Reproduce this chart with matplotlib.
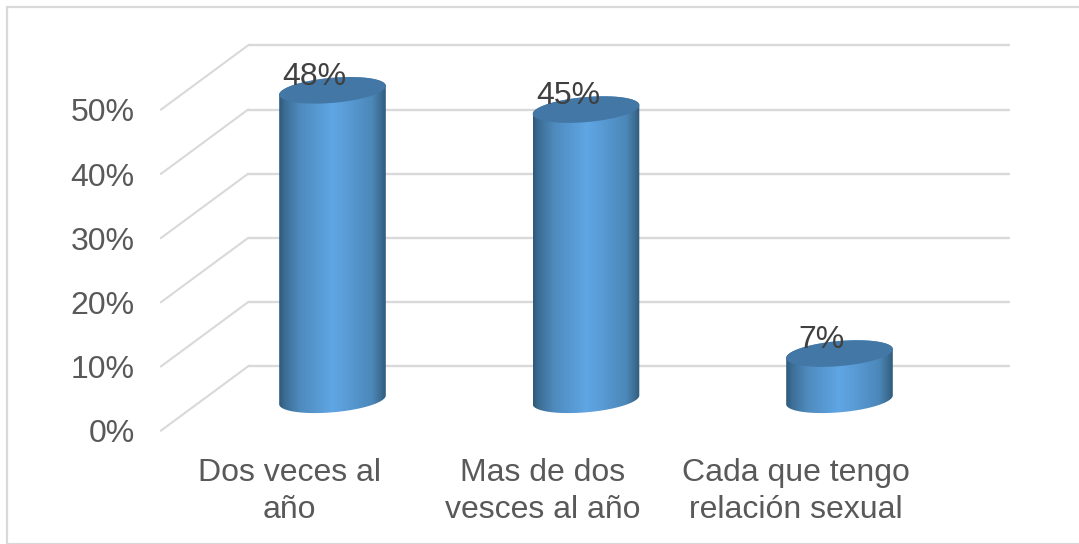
import numpy as np
from matplotlib import pyplot as plt
from matplotlib.colors import LinearSegmentedColormap
from matplotlib.patches import Polygon, Rectangle

# Data
categories = ["Dos veces al\naño", "Mas de dos\nvesces al año", "Cada que tengo\nrelación sexual"]
values = [48, 45, 7]
value_labels = ["48%", "45%", "7%"]
y_ticks = [0, 10, 20, 30, 40, 50]
y_tick_labels = ["0%", "10%", "20%", "30%", "40%", "50%"]

plt.rcParams['font.family'] = ['Liberation Sans', 'DejaVu Sans']

W, H = 1079, 544
PX_X = 253.5   # pixels per category
PX_Y = 6.42    # pixels per percent
X0, Y0 = 332.5, 398.5   # where category 0 / 0% sit, in pixels from top left

fig = plt.figure(figsize=(W / 100, H / 100), dpi=100)
ax = fig.add_axes([0, 0, 1, 1])
ax.set_xlim(-X0 / PX_X, (W - X0) / PX_X)
ax.set_ylim((Y0 - H) / PX_Y, Y0 / PX_Y)
ax.axis('off')

# chart border
fig.add_artist(Rectangle((6.5 / W, 0.5 / H), (W + 10) / W, (H - 7) / H, transform=fig.transFigure,
                         fill=False, edgecolor="#d9d9d9", linewidth=1.6))

# depth of the 3D box in axis units
depth_x = 43.5 / PX_X
depth_y = 5
left_x = -171.5 / PX_X
right_x = (1010 - X0) / PX_X
grid_color = "#d9d9d9"

for t in y_ticks:
    ax.plot([left_x, left_x + 2 * depth_x], [t - depth_y, t + depth_y], color=grid_color, lw=1.5, zorder=1)
    ax.plot([left_x + 2 * depth_x, right_x], [t + depth_y, t + depth_y], color=grid_color, lw=1.7, zorder=1,
            solid_capstyle='butt')

for t, lab in zip(y_ticks, y_tick_labels):
    ax.text(-198 / PX_X, t - depth_y - 0.6, lab, ha='right', va='center', fontsize=23, color="#595959")

# cylinder shading
shade = LinearSegmentedColormap.from_list("shade", [
    (0.0, "#2e5878"), (0.05, "#3b6d94"), (0.2, "#4f8bbe"), (0.5, "#5fa6e4"),
    (0.62, "#5a9dd8"), (0.87, "#4c88b9"), (0.96, "#3c6b90"), (1.0, "#2f5a7c")])
gradient = np.linspace(0, 1, 256).reshape(1, -1)


def ellipse(cx, cy, t):
    # slightly tilted ellipse, worked out in pixels then scaled to axis units
    a, b, tilt = 53.5, 12.5, np.radians(5)
    dx = a * np.cos(t) * np.cos(tilt) - b * np.sin(t) * np.sin(tilt)
    dy = a * np.cos(t) * np.sin(tilt) + b * np.sin(t) * np.cos(tilt)
    return np.column_stack([cx + dx / PX_X, cy + dy / PX_Y])


base = -0.2
half_w = 53.5 / PX_X
for i, v in enumerate(values):
    lower = ellipse(i, base, np.linspace(np.pi, 2 * np.pi, 60))
    upper = ellipse(i, v, np.linspace(0, np.pi, 60))
    body = Polygon(np.vstack([lower, upper]), closed=True, transform=ax.transData, facecolor='none', edgecolor='none')
    ax.add_patch(body)
    im = ax.imshow(gradient, extent=[i - half_w, i + half_w, base - 4, v + 4], aspect='auto', cmap=shade, zorder=3)
    im.set_clip_path(body)
    ax.add_patch(Polygon(ellipse(i, v, np.linspace(0, 2 * np.pi, 120)), closed=True, facecolor="#4377a6",
                         edgecolor='none', zorder=4))

ax.set_xlim(-X0 / PX_X, (W - X0) / PX_X)
ax.set_ylim((Y0 - H) / PX_Y, Y0 / PX_Y)

for i, (v, lab) in enumerate(zip(values, value_labels)):
    ax.text(i - 18 / PX_X, v + 2.1, lab, ha='center', va='center', fontsize=23, color="#404040", zorder=5)

for i, cat in enumerate(categories):
    ax.text(i - 43.5 / PX_X, -14.45, cat, ha='center', va='center', fontsize=23, color="#595959", linespacing=1.3)

fig.savefig("out.png", dpi=100)
